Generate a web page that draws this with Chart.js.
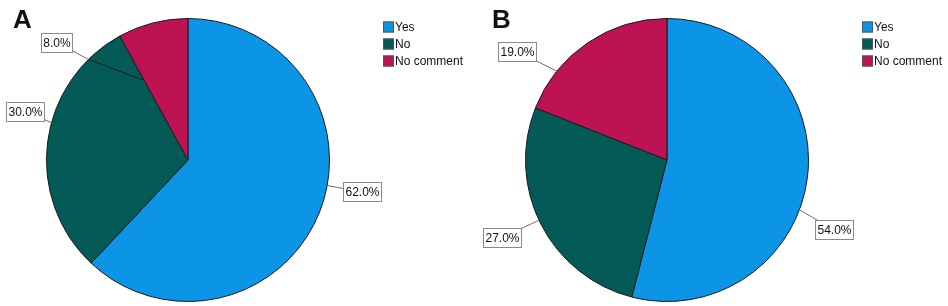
<!DOCTYPE html>
<html>
<head>
<meta charset="utf-8">
<script src="https://cdn.jsdelivr.net/npm/chart.js@4/dist/chart.umd.min.js"></script>
<style>
  html, body { margin: 0; padding: 0; background: #fff; }
  #wrap { position: relative; width: 948px; height: 306px; }
  canvas { position: absolute; top: 0; }
  #chartA { left: 0; }
  #chartB { left: 474px; }
</style>
</head>
<body>
<div id="wrap">
  <canvas id="chartA" width="474" height="306"></canvas>
  <canvas id="chartB" width="474" height="306"></canvas>
</div>
<script>
// data
const categories = ["Yes", "No", "No comment"];
const valuesA = [62.0, 30.0, 8.0];
const valuesB = [54.0, 27.0, 19.0];
const panelLetters = ["A", "B"];

const sliceColors = ["#0c94e6", "#035a56", "#bd1352"];
const FONT = "'Liberation Sans', Arial, sans-serif";

// draws panel letter, legend and boxed % labels with leader lines
const extrasPlugin = {
    id: "extras",
    afterDraw(chart, args, opts) {
        const ctx = chart.ctx;
        const meta = chart.getDatasetMeta(0);
        const ds = chart.data.datasets[0];
        const total = ds.data.reduce((a, b) => a + b, 0);
        ctx.save();

        // panel letter
        ctx.fillStyle = "#111";
        ctx.font = "bold 26px " + FONT;
        ctx.textBaseline = "alphabetic";
        ctx.textAlign = "left";
        ctx.fillText(opts.letter, opts.letterX, 28);

        // legend
        ctx.font = "12px " + FONT;
        ctx.textBaseline = "middle";
        chart.data.labels.forEach((lab, i) => {
            const y = 27 + i * 17;
            ctx.fillStyle = ds.backgroundColor[i];
            ctx.fillRect(opts.legendX, y - 5.5, 11, 11);
            ctx.strokeStyle = "#555";
            ctx.lineWidth = 1;
            ctx.strokeRect(opts.legendX + 0.5, y - 5, 10, 10);
            ctx.fillStyle = "#111";
            ctx.fillText(lab, opts.legendX + 12, y + 1);
        });

        // slice labels
        const arc0 = meta.data[0];
        const cx = arc0.x, cy = arc0.y, r = arc0.outerRadius;
        const pt = (deg, f) => {
            const a = deg * Math.PI / 180;
            return [cx + Math.sin(a) * r * f, cy - Math.cos(a) * r * f];
        };
        meta.data.forEach((arc, i) => {
            const place = opts.labels[i];
            const txt = (ds.data[i] / total * 100).toFixed(1) + "%";
            const [bx, by] = pt(place.boxAngle, place.boxDist);
            const [ax, ay] = pt(place.anchorAngle, 1);
            // leader
            ctx.strokeStyle = "#6e6e6e";
            ctx.lineWidth = 1;
            ctx.beginPath();
            ctx.moveTo(bx, by);
            ctx.lineTo(ax, ay);
            ctx.stroke();
            if (place.inner) {
                const [ix, iy] = pt(place.inner[0], place.inner[1]);
                ctx.strokeStyle = "#1b1b1b";
                ctx.beginPath();
                ctx.moveTo(ax, ay);
                ctx.lineTo(ix, iy);
                ctx.stroke();
            }
            // box
            ctx.font = "12px " + FONT;
            const w = Math.round(ctx.measureText(txt).width) + 4;
            const h = 19;
            const x0 = Math.round(bx - w / 2) + 0.5, y0 = Math.round(by - h / 2) + 0.5;
            ctx.fillStyle = "#fff";
            ctx.fillRect(x0, y0, w, h);
            ctx.strokeStyle = "#8a8a8a";
            ctx.strokeRect(x0, y0, w, h);
            ctx.fillStyle = "#111";
            ctx.textAlign = "center";
            ctx.textBaseline = "middle";
            ctx.fillText(txt, x0 + w / 2, y0 + h / 2 + 1);
            ctx.textAlign = "left";
        });
        ctx.restore();
    }
};

const makePie = (id, values, padding, extras) => {
    const canvas = document.getElementById(id);
    new Chart(canvas.getContext("2d"), {
        type: "pie",
        data: {
            labels: categories,
            datasets: [{
                data: values,
                backgroundColor: sliceColors,
                borderColor: "#1b1b1b",
                borderWidth: 1
            }]
        },
        options: {
            responsive: false,
            animation: false,
            layout: { padding: padding },
            plugins: {
                legend: { display: false },
                tooltip: { enabled: false },
                extras: extras
            }
        },
        plugins: [extrasPlugin]
    });
};

makePie("chartA", valuesA, { left: 46, right: 144, top: 18, bottom: 4 }, {
    letter: panelLetters[0], letterX: 13, legendX: 383,
    labels: [
        { anchorAngle: 100.4, boxAngle: 100.4, boxDist: 1.25 },
        { anchorAngle: 285.3, boxAngle: 286.6, boxDist: 1.205 },
        { anchorAngle: 315.3, boxAngle: 311.8, boxDist: 1.25, inner: [330.6, 0.65] }
    ]
});

makePie("chartB", valuesB, { left: 51, right: 139, top: 18, bottom: 4 }, {
    letter: panelLetters[1], letterX: 18, legendX: 388,
    labels: [
        { anchorAngle: 110.6, boxAngle: 112.7, boxDist: 1.28 },
        { anchorAngle: 244.8, boxAngle: 244.8, boxDist: 1.29 },
        { anchorAngle: 308.9, boxAngle: 305.9, boxDist: 1.31 }
    ]
});
</script>
</body>
</html>
